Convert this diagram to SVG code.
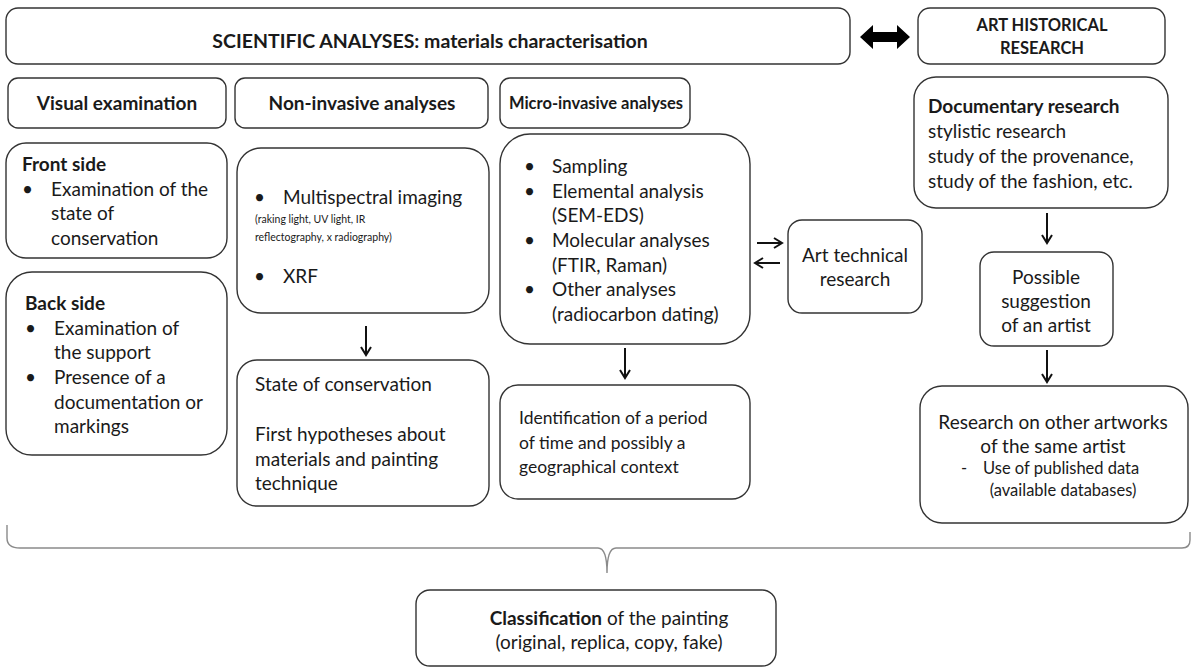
<svg xmlns="http://www.w3.org/2000/svg" width="1192" height="668" viewBox="0 0 1192 668">
  <style>
    .box { fill: #ffffff; stroke: #333333; stroke-width: 1.4; }
    text { font-family: Lato, "Open Sans", "Liberation Sans", sans-serif; fill: #1a1a1a; font-size: 19px; }
    .b { font-weight: bold; }
    .c { text-anchor: middle; }
    .sm { font-size: 10.5px; }
    .md { font-size: 16.5px; }
    .arrow { stroke: #111111; stroke-width: 2; fill: none; marker-end: url(#head); }
  </style>
  <defs>
    <marker id="head" viewBox="0 0 12 12" refX="10" refY="6" markerWidth="12" markerHeight="12" markerUnits="userSpaceOnUse" orient="auto">
      <path d="M2,1 L10,6 L2,11" fill="none" stroke="#111111" stroke-width="2"/>
    </marker>
  </defs>
  <rect width="1192" height="668" fill="#ffffff"/>

  <g id="scientific-analyses">
    <rect class="box" x="6" y="8" width="844" height="56" rx="12"/>
    <text class="b c" x="430" y="48" style="font-size:19.5px">SCIENTIFIC ANALYSES: materials characterisation</text>
  </g>

  <g id="art-historical-research">
    <rect class="box" x="918" y="8" width="247" height="56" rx="12"/>
    <text class="b c" x="1042" y="31" style="font-size:16.5px">ART HISTORICAL</text>
    <text class="b c" x="1042" y="54" style="font-size:16.5px">RESEARCH</text>
  </g>

  <g id="visual-examination">
    <rect class="box" x="8" y="78" width="218" height="50" rx="10"/>
    <text class="b c" x="117" y="110">Visual examination</text>
  </g>

  <g id="non-invasive">
    <rect class="box" x="235" y="78" width="253" height="50" rx="10"/>
    <text class="b c" x="362" y="110">Non-invasive analyses</text>
  </g>

  <g id="micro-invasive">
    <rect class="box" x="500" y="78" width="190" height="50" rx="10"/>
    <text class="b c" x="596" y="109" style="font-size:16.5px">Micro-invasive analyses</text>
  </g>

  <g id="documentary-research">
    <rect class="box" x="914" y="77" width="254" height="131" rx="22"/>
    <text class="b" x="928" y="113">Documentary research</text>
    <text x="928" y="138">stylistic research</text>
    <text x="928" y="163">study of the provenance,</text>
    <text x="928" y="188">study of the fashion, etc.</text>
  </g>

  <g id="front-side">
    <rect class="box" x="6" y="143" width="221" height="115" rx="20"/>
    <text class="b" x="22" y="171">Front side</text>
    <text x="22" y="196">•</text>
    <text x="51" y="196">Examination of the</text>
    <text x="51" y="220">state of</text>
    <text x="51" y="245">conservation</text>
  </g>

  <g id="back-side">
    <rect class="box" x="6" y="272" width="221" height="183" rx="26"/>
    <text class="b" x="25" y="310">Back side</text>
    <text x="25" y="335">•</text>
    <text x="54" y="335">Examination of</text>
    <text x="54" y="359">the support</text>
    <text x="25" y="384">•</text>
    <text x="54" y="384">Presence of a</text>
    <text x="54" y="409">documentation or</text>
    <text x="54" y="433">markings</text>
  </g>

  <g id="imaging">
    <rect class="box" x="237" y="148" width="252" height="165" rx="24"/>
    <text x="254" y="204">•</text>
    <text x="283" y="204">Multispectral imaging</text>
    <text class="sm" x="255" y="223">(raking light, UV light, IR</text>
    <text class="sm" x="255" y="241">reflectography, x radiography)</text>
    <text x="254" y="283">•</text>
    <text x="283" y="283">XRF</text>
  </g>

  <g id="state-of-conservation">
    <rect class="box" x="237" y="360" width="252" height="146" rx="20"/>
    <text x="255" y="391">State of conservation</text>
    <text x="255" y="441">First hypotheses  about</text>
    <text x="255" y="466">materials and painting</text>
    <text x="255" y="490">technique</text>
  </g>

  <g id="micro-analyses">
    <rect class="box" x="500" y="134" width="250" height="210" rx="30"/>
    <text x="524" y="173">•</text>
    <text x="552" y="173">Sampling</text>
    <text x="524" y="198">•</text>
    <text x="552" y="198">Elemental analysis</text>
    <text x="552" y="222">(SEM-EDS)</text>
    <text x="524" y="247">•</text>
    <text x="552" y="247">Molecular analyses</text>
    <text x="552" y="272">(FTIR, Raman)</text>
    <text x="524" y="296">•</text>
    <text x="552" y="296">Other analyses</text>
    <text x="552" y="321">(radiocarbon dating)</text>
  </g>

  <g id="identification">
    <rect class="box" x="500" y="385" width="250" height="114" rx="18"/>
    <text x="519" y="424" style="font-size:17.5px">Identification of a period</text>
    <text x="519" y="449" style="font-size:17.5px">of time and possibly a</text>
    <text x="519" y="473" style="font-size:17.5px">geographical context</text>
  </g>

  <g id="art-technical-research">
    <rect class="box" x="788" y="220" width="134" height="93" rx="14"/>
    <text class="c" x="855" y="262">Art technical</text>
    <text class="c" x="855" y="286">research</text>
  </g>

  <g id="possible-artist">
    <rect class="box" x="980" y="252" width="133" height="94" rx="14"/>
    <text class="c" x="1046" y="284">Possible</text>
    <text class="c" x="1046" y="308">suggestion</text>
    <text class="c" x="1046" y="332">of an artist</text>
  </g>

  <g id="other-artworks">
    <rect class="box" x="920" y="386" width="268" height="137" rx="22"/>
    <text class="c" x="1053" y="429">Research on other artworks</text>
    <text class="c" x="1053" y="453">of the same artist</text>
    <text class="md" x="961" y="474">-</text>
    <text class="md" x="983" y="474">Use of published data</text>
    <text class="md c" x="1063" y="496">(available databases)</text>
  </g>

  <g id="classification">
    <rect class="box" x="416" y="590" width="360" height="76" rx="14"/>
    <text class="c" x="609" y="625"><tspan class="b">Classification</tspan> of the painting</text>
    <text class="c" x="609" y="649">(original, replica, copy, fake)</text>
  </g>

  <g id="connectors">
    <!-- two-way link between the two research streams -->
    <polygon points="860,37 873,25 873,32 897,32 897,25 910,37 897,49 897,42 873,42 873,49" fill="#000000"/>
    <line class="arrow" x1="366" y1="326" x2="366" y2="355"/>
    <line class="arrow" x1="625" y1="348" x2="625" y2="378"/>
    <line class="arrow" x1="757" y1="243" x2="782" y2="243"/>
    <line class="arrow" x1="780" y1="263" x2="755" y2="263"/>
    <line class="arrow" x1="1047" y1="213" x2="1047" y2="243"/>
    <line class="arrow" x1="1047" y1="350" x2="1047" y2="382"/>
    <!-- brace gathering all results into the classification -->
    <path d="M7,525 L7,538 Q7,548 20,548 L598,548 Q607,548 607,573 Q607,548 616,548 L1182,548 Q1190,548 1190,540 L1190,532" fill="none" stroke="#8a8a8a" stroke-width="1.4"/>
  </g>
</svg>
